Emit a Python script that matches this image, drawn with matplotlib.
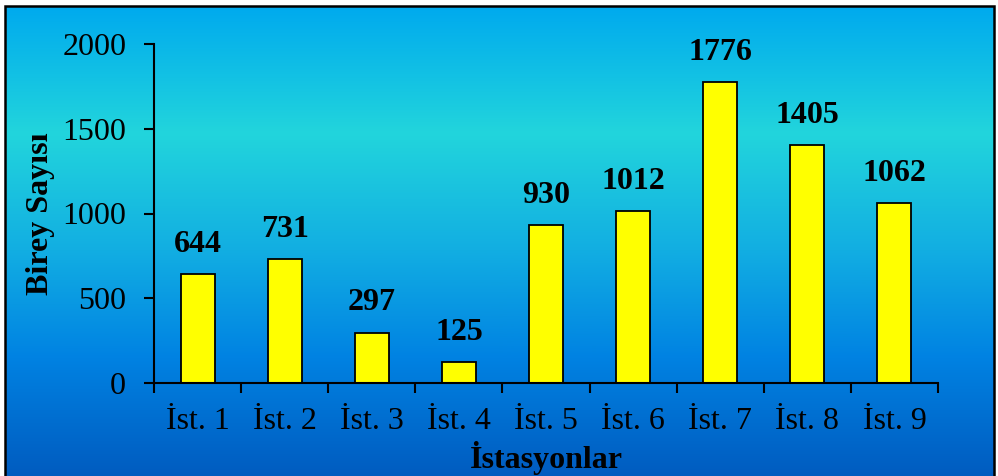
import matplotlib.pyplot as plt
import numpy as np
from matplotlib.colors import LinearSegmentedColormap
from matplotlib.patches import Rectangle

stations = ["İst. 1", "İst. 2", "İst. 3", "İst. 4", "İst. 5", "İst. 6", "İst. 7", "İst. 8", "İst. 9"]
counts = [644, 731, 297, 125, 930, 1012, 1776, 1405, 1062]

plt.rcParams['font.family'] = ['Liberation Serif', 'DejaVu Serif']

fig = plt.figure(figsize=(9.98, 4.76), dpi=100)

# background gradient (top -> bottom)
bg = fig.add_axes([5/998, 0, 989/998, 470/476], zorder=0)
cmap = LinearSegmentedColormap.from_list("bg", [
    (0.0, "#00aaee"),
    (0.27, "#22d5dc"),
    (0.52, "#12aee2"),
    (0.75, "#0082e2"),
    (1.0, "#005cc0"),
])
grad = np.linspace(0, 1, 256).reshape(-1, 1)
bg.imshow(grad, aspect='auto', cmap=cmap, extent=[0, 1, 0, 1])
bg.set_axis_off()

# frame
fig.patches.append(Rectangle((5/998, -0.02), 989/998, 470/476 + 0.02, transform=fig.transFigure,
                             fill=False, edgecolor='black', linewidth=1.8, zorder=5))

ax = fig.add_axes([154/998, 93/476, 784/998, 339/476], zorder=1)
ax.patch.set_alpha(0)
x = np.arange(len(stations))
ax.bar(x, counts, width=0.39, color='#ffff00', edgecolor='black', linewidth=1.3)

for xi, v in zip(x, counts):
    ax.annotate(str(v), (xi, v), xytext=(0, 11), textcoords='offset points',
                ha='center', va='bottom', fontsize=23, fontweight='bold')

ax.set_xlim(-0.5, 8.5)
ax.set_ylim(0, 2000)
ax.set_yticks([0, 500, 1000, 1500, 2000])
ax.set_xticks(np.arange(-0.5, 9, 1))
ax.set_xticklabels([])
ax.set_xticks(x, minor=True)
ax.set_xticklabels(stations, minor=True)
ax.tick_params(axis='x', which='minor', length=0, pad=17, labelsize=23)
ax.tick_params(axis='x', which='major', length=7, width=1.5, direction='out')
ax.tick_params(axis='y', length=7, width=1.5, direction='out', pad=13, labelsize=23)

for s in ['top', 'right']:
    ax.spines[s].set_visible(False)
for s in ['left', 'bottom']:
    ax.spines[s].set_linewidth(1.5)

ax.set_ylabel("Birey Sayısı", fontsize=23, fontweight='bold', labelpad=5)
fig.text(546/998, 1 - 458/476, "İstasyonlar", ha='center', va='center',
         fontsize=23, fontweight='bold')

fig.savefig("out.png", dpi=100)
